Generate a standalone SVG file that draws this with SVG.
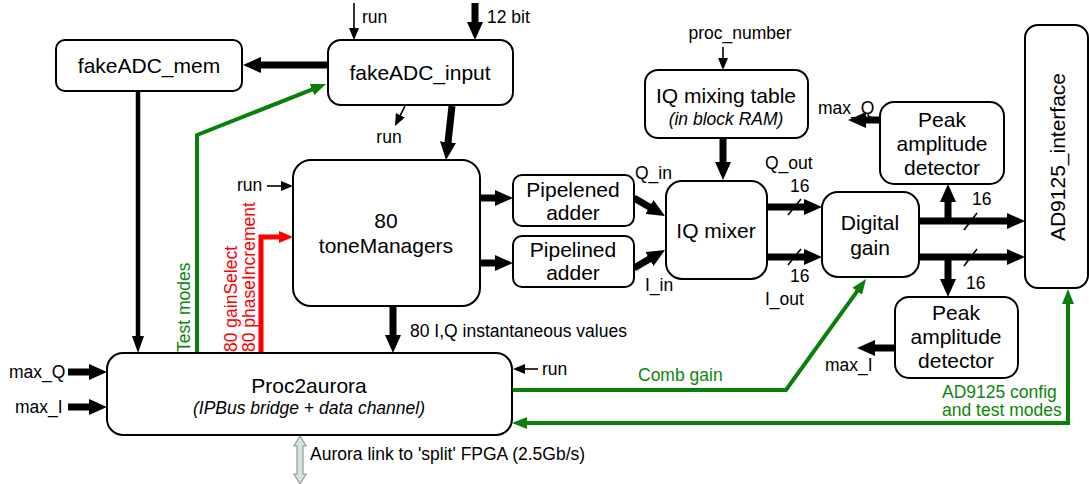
<svg xmlns="http://www.w3.org/2000/svg" width="1089" height="484" viewBox="0 0 1089 484">
<style>
.box{fill:#fff;stroke:#000;stroke-width:2}
.t{font-family:"Liberation Sans",Arial,sans-serif;fill:#000}
.big{font-size:21px}
.sm{font-size:17.5px}
.it{font-size:17.5px;font-style:italic}
.mid{text-anchor:middle}
.thick{stroke:#000;stroke-width:7;fill:none;marker-end:url(#hThick)}
.med{stroke:#000;stroke-width:4.5;fill:none;marker-end:url(#hMed)}
.thin{stroke:#000;stroke-width:1.6;fill:none;marker-end:url(#hThin)}
.grn{stroke:#0a7f0a;stroke-width:4;fill:none;marker-end:url(#hGrn)}
.red{stroke:#ff0000;stroke-width:5;fill:none;marker-end:url(#hRed)}
.slash{stroke:#000;stroke-width:1.6}
.gt{fill:#0a870a}
.rt{fill:#ff0000}
</style>
<defs>
<marker id="hThick" markerUnits="userSpaceOnUse" markerWidth="18" markerHeight="16" refX="2" refY="8" orient="auto"><path d="M0,0 L18,8 L0,16 z" fill="#000"/></marker>
<marker id="hMed" markerUnits="userSpaceOnUse" markerWidth="17" markerHeight="12" refX="2" refY="6" orient="auto"><path d="M0,0 L17,6 L0,12 z" fill="#000"/></marker>
<marker id="hThin" markerUnits="userSpaceOnUse" markerWidth="12" markerHeight="10" refX="1" refY="5" orient="auto"><path d="M0,0 L12,5 L0,10 z" fill="#000"/></marker>
<marker id="hGrn" markerUnits="userSpaceOnUse" markerWidth="15" markerHeight="12" refX="1" refY="6" orient="auto"><path d="M0,0 L15,6 L0,12 z" fill="#0a7f0a"/></marker>
<marker id="hRed" markerUnits="userSpaceOnUse" markerWidth="14" markerHeight="12" refX="1" refY="6" orient="auto"><path d="M0,0 L14,6 L0,12 z" fill="#ff0000"/></marker>
</defs>
<rect width="1089" height="484" fill="#fff"/>

<g id="connectors">
<line class="thin" x1="354" y1="3" x2="354" y2="29"/>
<line class="thick" x1="475" y1="3" x2="475" y2="24"/>
<line class="thick" x1="328" y1="65" x2="259" y2="65"/>
<line class="med" x1="138" y1="91" x2="138" y2="338"/>
<polyline class="grn" points="197,353 197,135 313,89.2"/>
<line class="thin" x1="405" y1="106" x2="399.9" y2="116.2"/>
<line class="thick" x1="452" y1="106" x2="447.8" y2="144.1"/>
<line class="thin" x1="267" y1="186" x2="282" y2="186"/>
<polyline class="red" points="261,353 261,237 280,237"/>
<line class="thick" x1="480" y1="198" x2="497" y2="198"/>
<line class="thick" x1="480" y1="263" x2="497" y2="263"/>
<line class="thick" x1="393" y1="306" x2="393" y2="337"/>
<line class="thick" x1="634" y1="198" x2="651.2" y2="208"/>
<line class="thick" x1="634" y1="268" x2="651.2" y2="258"/>
<line class="thin" x1="723" y1="47" x2="723" y2="59"/>
<line class="thick" x1="723" y1="138" x2="723" y2="164"/>
<line class="thick" x1="767" y1="207" x2="806" y2="207"/>
<line class="thick" x1="767" y1="257" x2="806" y2="257"/>
<line class="slash" x1="788" y1="215" x2="801" y2="199"/>
<line class="slash" x1="788" y1="265" x2="801" y2="249"/>
<line class="thick" x1="919" y1="221" x2="1009" y2="221"/>
<line class="thick" x1="919" y1="257" x2="1009" y2="257"/>
<line class="thick" x1="948" y1="221" x2="948" y2="200"/>
<line class="thick" x1="948" y1="257" x2="948" y2="281"/>
<line class="slash" x1="964" y1="230" x2="977" y2="213"/>
<line class="slash" x1="964" y1="266" x2="977" y2="249"/>
<line class="thick" x1="880" y1="120" x2="864" y2="120"/>
<line class="thick" x1="895" y1="348" x2="873" y2="348"/>
<polyline class="grn" points="512,390 786,390 857.8,290.4"/>
<line class="grn" x1="1068" y1="425" x2="1068" y2="303"/>
<line class="grn" x1="1070" y1="423" x2="526" y2="423"/>
<line class="thin" x1="538" y1="369" x2="524" y2="369"/>
<line class="thick" x1="68" y1="372" x2="91" y2="372"/>
<line class="thick" x1="68" y1="407" x2="91" y2="407"/>
<polygon points="300,436 306,446 303,446 303,474 306,474 300,484 294,474 297,474 297,446 294,446" fill="#d2e3e0" stroke="#9a9a9a" stroke-width="1.2"/>
</g>

<g id="labels">
<text class="t sm" x="362" y="23">run</text>
<text class="t sm" x="487" y="23">12 bit</text>
<text class="t sm mid" x="389" y="143">run</text>
<text class="t sm" x="237" y="191">run</text>
<text class="t sm mid" x="740" y="39">proc_number</text>
<text class="t sm" x="818" y="114">max_Q</text>
<text class="t sm" x="635" y="179">Q_in</text>
<text class="t sm" x="645" y="291">I_in</text>
<text class="t sm" x="765" y="169">Q_out</text>
<text class="t sm" x="790" y="192">16</text>
<text class="t sm" x="790" y="282">16</text>
<text class="t sm" x="765" y="305">I_out</text>
<text class="t sm" x="972" y="205">16</text>
<text class="t sm" x="966" y="289">16</text>
<text class="t sm" x="825" y="371">max_I</text>
<text class="t sm gt" x="638" y="381">Comb gain</text>
<text class="t sm gt" x="942" y="398">AD9125 config</text>
<text class="t sm gt" x="942" y="416">and test modes</text>
<text class="t sm" x="542" y="375">run</text>
<text class="t sm" x="9" y="378">max_Q</text>
<text class="t sm" x="15" y="413">max_I</text>
<text class="t sm" x="410" y="337">80 I,Q instantaneous values</text>
<text class="t sm" x="310" y="460">Aurora link to 'split' FPGA (2.5Gb/s)</text>
<text class="t sm gt" transform="translate(190,352) rotate(-90)">Test modes</text>
<text class="t sm rt" transform="translate(237,352) rotate(-90)">80 gainSelect</text>
<text class="t sm rt" transform="translate(255,352) rotate(-90)">80 phaseIncrement</text>
</g>

<g id="fakeADC_mem">
<rect class="box" x="56" y="40" width="186" height="51" rx="9"/>
<text class="t big mid" x="149" y="73">fakeADC_mem</text>
</g>
<g id="fakeADC_input">
<rect class="box" x="328" y="40" width="185" height="65" rx="13"/>
<text class="t big mid" x="420" y="80">fakeADC_input</text>
</g>
<g id="toneManagers">
<rect class="box" x="293" y="160" width="187" height="146" rx="18"/>
<text class="t big mid" x="386" y="228">80</text>
<text class="t big mid" x="386" y="253">toneManagers</text>
</g>
<g id="pipelened_adder">
<rect class="box" x="513" y="175" width="121" height="51" rx="9"/>
<text class="t big mid" x="573" y="197">Pipelened</text>
<text class="t big mid" x="573" y="220">adder</text>
</g>
<g id="pipelined_adder">
<rect class="box" x="513" y="236" width="121" height="51" rx="9"/>
<text class="t big mid" x="573" y="257">Pipelined</text>
<text class="t big mid" x="573" y="280">adder</text>
</g>
<g id="iq_mixing_table">
<rect class="box" x="645" y="70" width="163" height="68" rx="13"/>
<text class="t big mid" x="726" y="103">IQ mixing table</text>
<text class="t it mid" x="726" y="125">(in block RAM)</text>
</g>
<g id="iq_mixer">
<rect class="box" x="666" y="181" width="101" height="98" rx="16"/>
<text class="t big mid" x="716" y="238">IQ mixer</text>
</g>
<g id="digital_gain">
<rect class="box" x="822" y="192" width="97" height="85" rx="16"/>
<text class="t big mid" x="870" y="230">Digital</text>
<text class="t big mid" x="870" y="255">gain</text>
</g>
<g id="peak_q">
<rect class="box" x="880" y="102" width="124" height="82" rx="14"/>
<text class="t big mid" x="942" y="127">Peak</text>
<text class="t big mid" x="942" y="151">amplitude</text>
<text class="t big mid" x="942" y="175">detector</text>
</g>
<g id="peak_i">
<rect class="box" x="895" y="297" width="123" height="81" rx="14"/>
<text class="t big mid" x="956" y="320">Peak</text>
<text class="t big mid" x="956" y="344">amplitude</text>
<text class="t big mid" x="956" y="368">detector</text>
</g>
<g id="ad9125_interface">
<rect class="box" x="1025" y="25" width="63" height="263" rx="13"/>
<text class="t big mid" transform="translate(1065,157) rotate(-90)">AD9125_interface</text>
</g>
<g id="proc2aurora">
<rect class="box" x="107" y="353" width="405" height="82" rx="16"/>
<text class="t big mid" x="309" y="393">Proc2aurora</text>
<text class="t it mid" x="309" y="414">(IPBus bridge + data channel)</text>
</g>
</svg>
